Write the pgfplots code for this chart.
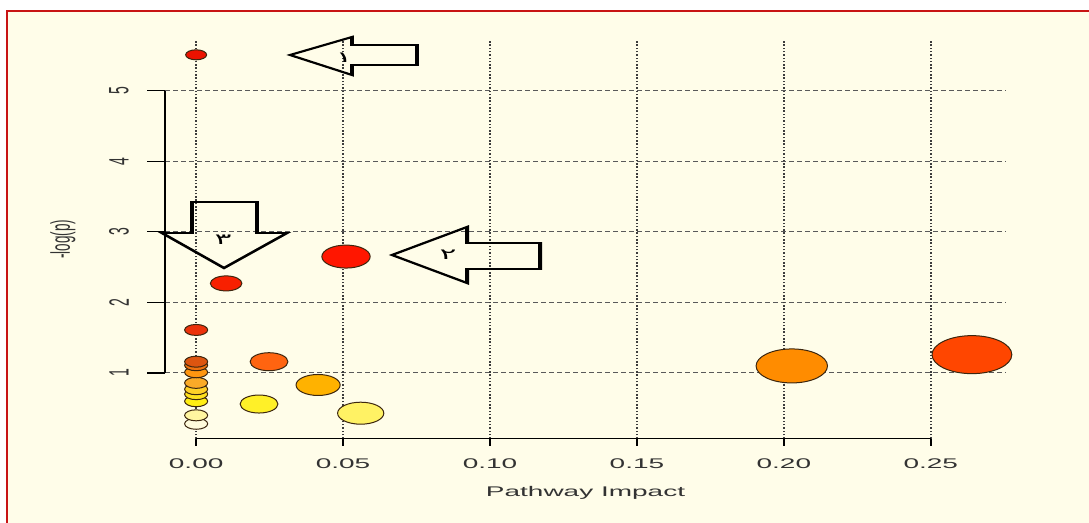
\documentclass[border=0pt]{standalone}
\usepackage{pgfplots}
\pgfplotsset{compat=1.18}
\usepackage{fontspec}
\setmainfont{Liberation Sans}
\newfontfamily\widefont[FakeStretch=2.0]{Liberation Sans}
\newfontfamily\tallfont[FakeStretch=0.5]{Liberation Sans}
\newfontfamily\arabicfont[Script=Arabic]{DejaVu Sans}
\TeXXeTstate=1
\definecolor{cream}{RGB}{255,253,233}
\definecolor{frame}{RGB}{200,20,20}
\definecolor{edge}{RGB}{60,38,15}
\definecolor{hgridc}{RGB}{90,90,90}
\definecolor{vgridc}{RGB}{60,60,60}
\definecolor{c01}{RGB}{236,18,0}
\definecolor{c02}{RGB}{255,22,0}
\definecolor{c03}{RGB}{248,32,0}
\definecolor{c04}{RGB}{236,50,10}
\definecolor{c05}{RGB}{220,85,16}
\definecolor{c06}{RGB}{240,115,16}
\definecolor{c07}{RGB}{255,150,16}
\definecolor{c08}{RGB}{250,170,40}
\definecolor{c09}{RGB}{255,208,40}
\definecolor{c10}{RGB}{255,225,30}
\definecolor{c11}{RGB}{255,238,20}
\definecolor{c12}{RGB}{255,245,160}
\definecolor{c13}{RGB}{255,251,220}
\definecolor{c14}{RGB}{255,100,16}
\definecolor{c15}{RGB}{255,178,0}
\definecolor{c16}{RGB}{255,240,40}
\definecolor{c17}{RGB}{255,242,100}
\definecolor{c18}{RGB}{255,140,0}
\definecolor{c19}{RGB}{255,70,0}
\tikzset{bub/.style={xscale=2.1, draw=edge, line width=1pt, fill=#1}}
\begin{document}
\begin{tikzpicture}[x=1pt,y=1pt]
\useasboundingbox (0,0) rectangle (1089,522);
\fill[white] (0,0) rectangle (1089,522);
\fill[cream] (7,-10) rectangle (1100,511);
\draw[frame, line width=2pt] (7,-10) -- (7,511) -- (1100,511);
\begin{axis}[
  at={(165pt,83.4pt)}, anchor=south west, scale only axis,
  width=841pt, height=398.6pt,
  xmin=-0.0106, xmax=0.2756, ymin=0.07, ymax=5.72,
  axis line style={draw=none},
  major tick length=0pt,
  scaled x ticks=false,
  xtick={0,0.05,0.1,0.15,0.2,0.25},
  xticklabels={0.00,0.05,0.10,0.15,0.20,0.25},
  ytick={1,2,3,4,5}, yticklabels={1,2,3,4,5},
  xticklabel style={anchor=center, yshift=-25.5pt, font=\widefont\fontsize{14}{16}\selectfont, text=black!80},
  yticklabel style={xshift=-46pt, rotate=90, anchor=center, font=\tallfont\fontsize{28}{30}\selectfont, text=black!80},
  xlabel={Pathway Impact}, ylabel={-log(p)},
  xlabel style={at={(axis description cs:0.5,-0.1365)}, anchor=center, font=\widefont\fontsize{14}{16}\selectfont, text=black!80},
  ylabel style={at={(axis description cs:-0.1213,0.5)}, anchor=center, font=\tallfont\fontsize{27}{29}\selectfont, text=black!80},
  clip=false,
]
% grid
\pgfplotsinvokeforeach{1,2,3,4,5}{
  \draw[hgridc, line width=1pt, dash pattern=on 4.5pt off 3.5pt] (axis cs:-0.0106,#1) -- (axis cs:0.2756,#1);
}
\pgfplotsinvokeforeach{0,0.05,0.1,0.15,0.2,0.25}{
  \draw[vgridc, line width=2pt, dash pattern=on 1.5pt off 1.8pt] (axis cs:#1,0.07) -- (axis cs:#1,5.72);
}
% axes (R style, from first to last tick)
\draw[black, line width=1.3pt] (axis cs:0,0.07) -- (axis cs:0.25,0.07);
\pgfplotsinvokeforeach{0,0.05,0.1,0.15,0.2,0.25}{
  \draw[black, line width=2.4pt] (axis cs:#1,0.07) -- ++(0pt,-7pt);
}
\draw[black, line width=2.6pt] (axis cs:-0.0106,1) -- (axis cs:-0.0106,5);
\pgfplotsinvokeforeach{1,2,3,4,5}{
  \draw[black, line width=1.2pt] (axis cs:-0.0106,#1) -- ++(-18pt,0pt);
}
% points
\addplot[only marks, mark=*, mark size=5.5, mark options={bub=c13}] coordinates {(0,0.28)};
\addplot[only marks, mark=*, mark size=5.5, mark options={bub=c12}] coordinates {(0,0.40)};
\addplot[only marks, mark=*, mark size=5.5, mark options={bub=c11}] coordinates {(0,0.60)};
\addplot[only marks, mark=*, mark size=5.5, mark options={bub=c10}] coordinates {(0,0.70)};
\addplot[only marks, mark=*, mark size=5.5, mark options={bub=c09}] coordinates {(0,0.77)};
\addplot[only marks, mark=*, mark size=5.5, mark options={bub=c08}] coordinates {(0,0.86)};
\addplot[only marks, mark=*, mark size=5.5, mark options={bub=c07}] coordinates {(0,1.01)};
\addplot[only marks, mark=*, mark size=5.5, mark options={bub=c06}] coordinates {(0,1.11)};
\addplot[only marks, mark=*, mark size=5.5, mark options={bub=c05}] coordinates {(0,1.16)};
\addplot[only marks, mark=*, mark size=5.5, mark options={bub=c04}] coordinates {(0,1.61)};
\addplot[only marks, mark=*, mark size=5, mark options={bub=c01}] coordinates {(0,5.51)};
\addplot[only marks, mark=*, mark size=7.5, mark options={bub=c03}] coordinates {(0.0102,2.27)};
\addplot[only marks, mark=*, mark size=11.5, mark options={bub=c02}] coordinates {(0.051,2.65)};
\addplot[only marks, mark=*, mark size=9, mark options={bub=c14}] coordinates {(0.0248,1.16)};
\addplot[only marks, mark=*, mark size=10.5, mark options={bub=c15}] coordinates {(0.0415,0.83)};
\addplot[only marks, mark=*, mark size=9, mark options={bub=c16}] coordinates {(0.0214,0.56)};
\addplot[only marks, mark=*, mark size=11, mark options={bub=c17}] coordinates {(0.056,0.43)};
\addplot[only marks, mark=*, mark size=17, mark options={bub=c18}] coordinates {(0.2027,1.10)};
\addplot[only marks, mark=*, mark size=19, mark options={bub=c19}] coordinates {(0.264,1.26)};
\end{axis}
% annotation arrows (stretched like the rest of the picture)
\begin{scope}[transform canvas={xscale=2.1}]
\draw[black, line width=1.9pt, line join=miter]
  ({290/2.1},467) -- ({352/2.1},485) -- ({352/2.1},477) -- ({417/2.1},477)
  -- ({417/2.1},457) -- ({352/2.1},457) -- ({352/2.1},447) -- cycle;
\node[font=\arabicfont\fontsize{15}{17}\selectfont] at ({344/2.1},464) {\beginR ۱\endR};
\draw[black, line width=1.9pt, line join=miter]
  ({392/2.1},267) -- ({467/2.1},295) -- ({467/2.1},279) -- ({540/2.1},279)
  -- ({540/2.1},253) -- ({467/2.1},253) -- ({467/2.1},239) -- cycle;
\node[font=\arabicfont\fontsize{15}{17}\selectfont] at ({448/2.1},267) {\beginR ۲\endR};
\draw[black, line width=1.9pt, line join=miter]
  ({224/2.1},254) -- ({287/2.1},289) -- ({257/2.1},289) -- ({257/2.1},320)
  -- ({192/2.1},320) -- ({192/2.1},289) -- ({162/2.1},289) -- cycle;
\node[font=\arabicfont\fontsize{15}{17}\selectfont] at ({223/2.1},282) {\beginR ۳\endR};
\end{scope}
\end{tikzpicture}
\end{document}
